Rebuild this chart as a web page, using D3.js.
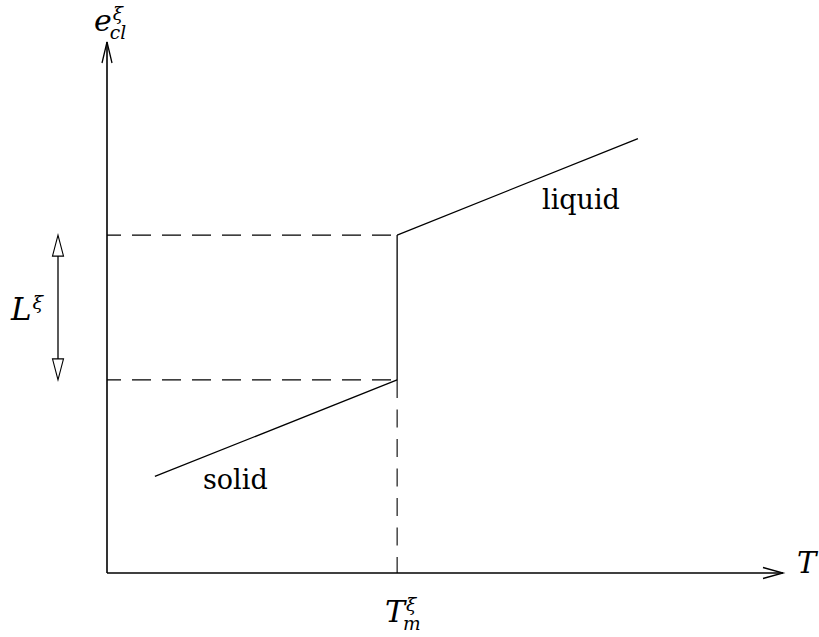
<!DOCTYPE html>
<html>
<head>
<meta charset="utf-8">
<script src="https://cdn.jsdelivr.net/npm/d3@7"></script>
<style>
  html, body { margin: 0; padding: 0; background: #fff; }
  svg { display: block; }
</style>
</head>
<body>
<svg id="chart" width="819" height="637"></svg>
<script>
// Schematic energy–temperature diagram for melting: e_cl vs T.
const axisMax = { T: 23.3, e: 27.5 };
const meltT = 10;                       // T_m
const solidT = [1.65, meltT];
const solidE = [5, 10];
const liquidT = [meltT, 18.3];
const liquidE = [17.5, 22.5];
const latentE = [solidE[1], liquidE[0]]; // span of L

(function () {
const serif = "'DejaVu Serif', 'Liberation Serif', 'Times New Roman', serif";
const svg = d3.select("#chart");
const x = d3.scaleLinear().domain([0, axisMax.T]).range([107, 783]);
const y = d3.scaleLinear().domain([0, axisMax.e]).range([573, 42]);
const line = d3.line().x(d => x(d[0])).y(d => y(d[1]));

// Axes
svg.append("path").attr("d", line([[0, 0], [axisMax.T, 0]]))
  .attr("stroke", "#000").attr("stroke-width", 1.4).attr("fill", "none");
svg.append("path").attr("d", line([[0, 0], [0, axisMax.e]]))
  .attr("stroke", "#000").attr("stroke-width", 1.6).attr("fill", "none");

// Open arrowheads at the axis ends
const xt = [x(axisMax.T), y(0)];
svg.append("path")
  .attr("d", `M${xt[0] - 20},${xt[1] - 5.5}L${xt[0]},${xt[1]}L${xt[0] - 20},${xt[1] + 5.5}`)
  .attr("stroke", "#000").attr("stroke-width", 1.3).attr("fill", "none");
const yt = [x(0), y(axisMax.e)];
svg.append("path")
  .attr("d", `M${yt[0] - 5},${yt[1] + 21}L${yt[0]},${yt[1]}L${yt[0] + 5},${yt[1] + 21}`)
  .attr("stroke", "#000").attr("stroke-width", 1.3).attr("fill", "none");

// Dashed guides
latentE.forEach(e => {
  svg.append("path").attr("d", line([[0, e], [meltT, e]]))
    .attr("stroke", "#000").attr("stroke-width", 1.1).attr("fill", "none")
    .attr("stroke-dasharray", "19,11").attr("stroke-dashoffset", 5);
});
svg.append("path").attr("d", line([[meltT, solidE[1]], [meltT, 0]]))
  .attr("stroke", "#000").attr("stroke-width", 1.1).attr("fill", "none")
  .attr("stroke-dasharray", "18,11.5");

// Solid branch, jump at T_m, liquid branch
svg.append("path").attr("d", line(solidT.map((t, i) => [t, solidE[i]])))
  .attr("stroke", "#000").attr("stroke-width", 1.3).attr("fill", "none");
svg.append("path").attr("d", line([[meltT, latentE[0]], [meltT, latentE[1]]]))
  .attr("stroke", "#000").attr("stroke-width", 1.3).attr("fill", "none");
svg.append("path").attr("d", line(liquidT.map((t, i) => [t, liquidE[i]])))
  .attr("stroke", "#000").attr("stroke-width", 1.3).attr("fill", "none");

// Double arrow marking the latent energy L
const ax = 58;
const yHi = y(latentE[1]), yLo = y(latentE[0]);
svg.append("line").attr("x1", ax).attr("x2", ax).attr("y1", yHi + 2).attr("y2", yLo - 2)
  .attr("stroke", "#000").attr("stroke-width", 1.3);
svg.append("path")
  .attr("d", `M${ax},${yHi}L${ax - 5.5},${yHi + 21}L${ax + 5.5},${yHi + 21}Z`)
  .attr("stroke", "#000").attr("stroke-width", 1.1).attr("fill", "#fff");
svg.append("path")
  .attr("d", `M${ax},${yLo}L${ax - 5.5},${yLo - 21}L${ax + 5.5},${yLo - 21}Z`)
  .attr("stroke", "#000").attr("stroke-width", 1.1).attr("fill", "#fff");

// Labels
function txt(px, py, s, size, italic) {
  return svg.append("text").attr("x", px).attr("y", py)
    .attr("font-family", serif).attr("font-size", size)
    .attr("font-style", italic ? "italic" : "normal").attr("fill", "#000").text(s);
}
// Italic symbol with a stacked superscript and subscript, as one text element
function mathLabel(px, py, base, sup, sub, size) {
  const small = size * 0.62;
  const probe = txt(0, -100, sup || "", small, true);
  const supW = probe.node().getComputedTextLength();
  probe.remove();
  const t = svg.append("text").attr("x", px).attr("y", py)
    .attr("font-family", serif).attr("font-style", "italic").attr("fill", "#000");
  t.append("tspan").attr("font-size", size).text(base);
  if (sup) t.append("tspan").attr("font-size", small).attr("dx", 1)
    .attr("dy", -size * 0.36).text(sup);
  if (sub) t.append("tspan").attr("font-size", small)
    .attr("dx", sup ? -supW - 3 : -2).attr("dy", sup ? size * 0.63 : size * 0.27).text(sub);
}
mathLabel(94, 31, "e", "ξ", "cl", 30);
mathLabel(797, 573, "T", null, null, 29);
mathLabel(385, 622, "T", "ξ", "m", 30);
mathLabel(11, 320, "L", "ξ", null, 31);

txt(203, 489, "solid", 27, false);
txt(542, 209, "liquid", 27, false);
})();
</script>
</body>
</html>
